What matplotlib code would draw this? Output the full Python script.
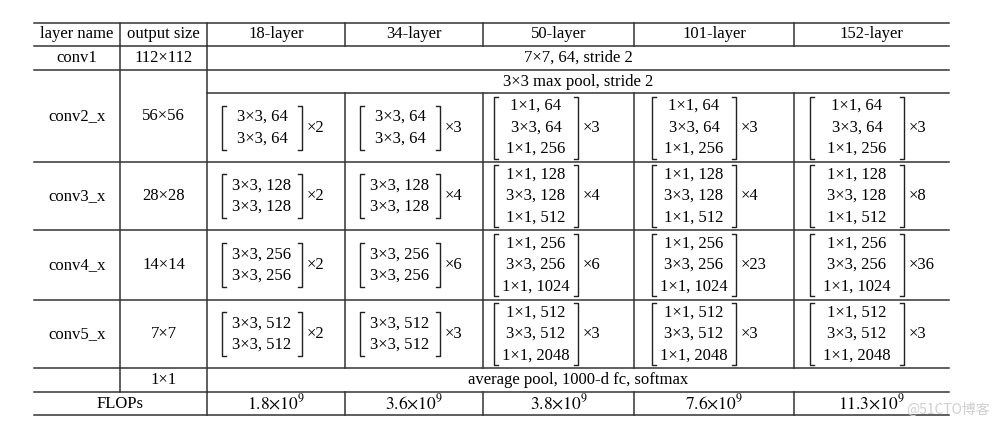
import matplotlib
matplotlib.use("Agg")
import matplotlib.pyplot as plt

plt.rcParams.update({"font.family": ["Liberation Serif", "DejaVu Serif"],
                     "mathtext.fontset": "stix", "font.size": 12})

HEADERS = ["layer name", "output size", "18-layer", "34-layer", "50-layer", "101-layer", "152-layer"]
STAGES = ["conv2_x", "conv3_x", "conv4_x", "conv5_x"]
OUT_SIZES = ["56×56", "28×28", "14×14", "7×7"]
BASIC = [["3×3, 64", "3×3, 64"], ["3×3, 128", "3×3, 128"],
         ["3×3, 256", "3×3, 256"], ["3×3, 512", "3×3, 512"]]
BOTTLE = [["1×1, 64", "3×3, 64", "1×1, 256"], ["1×1, 128", "3×3, 128", "1×1, 512"],
          ["1×1, 256", "3×3, 256", "1×1, 1024"], ["1×1, 512", "3×3, 512", "1×1, 2048"]]
REPEATS = {"18-layer": [2, 2, 2, 2], "34-layer": [3, 4, 6, 3], "50-layer": [3, 4, 6, 3],
           "101-layer": [3, 4, 23, 3], "152-layer": [3, 8, 36, 3]}
FLOPS = ["1.8", "3.6", "3.8", "7.6", "11.3"]

COLS = [34, 120, 207, 345, 483, 634, 794, 949]
ROWS = [23, 46, 70, 93, 162, 230, 300, 368, 392, 415]
CELL_OFF = [55, 55, 53, 60, 63]
BR_HALF = [40, 40, 42, 42, 47]

fig = plt.figure(figsize=(9.99, 4.29), dpi=100)
ax = fig.add_axes([0, 0, 1, 1])
ax.set_xlim(0, 999)
ax.set_ylim(429, 0)
ax.axis("off")
lw = 1.1

def hl(y, x0=COLS[0], x1=COLS[-1]):
    ax.plot([x0, x1], [y, y], color="#333", lw=lw)

def vl(x, y0, y1):
    ax.plot([x, x], [y0, y1], color="#333", lw=lw)

for i, y in enumerate(ROWS):
    if i == 3:
        hl(y, COLS[2])
    else:
        hl(y)
for x in COLS[1:-1]:
    vl(x, ROWS[0], ROWS[1])
vl(COLS[1], ROWS[1], ROWS[8]); vl(COLS[2], ROWS[1], ROWS[8])
for x in COLS[3:-1]:
    vl(x, ROWS[3], ROWS[7])
for x in COLS[2:-1]:
    vl(x, ROWS[8], ROWS[9])

def mid(a, b):
    return (a + b) / 2

for j, h in enumerate(HEADERS):
    ax.text(mid(COLS[j], COLS[j + 1]), mid(ROWS[0], ROWS[1]), h, ha="center", va="center")
ax.text(mid(COLS[0], COLS[1]), mid(ROWS[1], ROWS[2]), "conv1", ha="center", va="center")
ax.text(mid(COLS[1], COLS[2]), mid(ROWS[1], ROWS[2]), "112×112", ha="center", va="center")
ax.text(mid(COLS[2], COLS[-1]), mid(ROWS[1], ROWS[2]), "7×7, 64, stride 2", ha="center", va="center")
ax.text(mid(COLS[2], COLS[-1]), mid(ROWS[2], ROWS[3]), "3×3 max pool, stride 2", ha="center", va="center")

for s, name in enumerate(STAGES):
    top = ROWS[2] if s == 0 else ROWS[3 + s]
    ax.text(mid(COLS[0], COLS[1]), mid(top, ROWS[4 + s]), name, ha="center", va="center")
    ax.text(mid(COLS[1], COLS[2]), mid(top, ROWS[4 + s]), OUT_SIZES[s], ha="center", va="center")
    y0, y1 = ROWS[3 + s], ROWS[4 + s]
    yc = mid(y0, y1)
    for k, model in enumerate(HEADERS[2:]):
        lines = BASIC[s] if k < 2 else BOTTLE[s]
        n = len(lines)
        cx = COLS[2 + k] + CELL_OFF[k]
        half = BR_HALF[k]
        for r, t in enumerate(lines):
            ax.text(cx, yc + (r - (n - 1) / 2) * 21.5, t, ha="center", va="center")
        bh = 22 if n == 2 else 31
        xl, xr = cx - half, cx + half
        ax.plot([xl + 4, xl, xl, xl + 4], [yc - bh, yc - bh, yc + bh, yc + bh], color="#222", lw=1)
        ax.plot([xr - 4, xr, xr, xr - 4], [yc - bh, yc - bh, yc + bh, yc + bh], color="#222", lw=1)
        ax.text(xr + 5, yc, f"×{REPEATS[model][s]}", ha="left", va="center")

ax.text(mid(COLS[1], COLS[2]), mid(ROWS[7], ROWS[8]), "1×1", ha="center", va="center")
ax.text(mid(COLS[2], COLS[-1]), mid(ROWS[7], ROWS[8]), "average pool, 1000-d fc, softmax",
        ha="center", va="center")
ax.text(mid(COLS[0], COLS[2]), mid(ROWS[8], ROWS[9]), "FLOPs", ha="center", va="center")
for k, f in enumerate(FLOPS):
    ax.text(mid(COLS[2 + k], COLS[3 + k]), mid(ROWS[8], ROWS[9]),
            rf"$\mathrm{{{f}{{\times}}10^9}}$", ha="center", va="center", fontsize=12.5)

ax.text(990, 410, "@51CTO博客", ha="right", va="center", color="#cfcfcf", fontsize=10,
        family=["Noto Sans CJK SC", "DejaVu Sans"])

fig.savefig("out.png", dpi=100)
